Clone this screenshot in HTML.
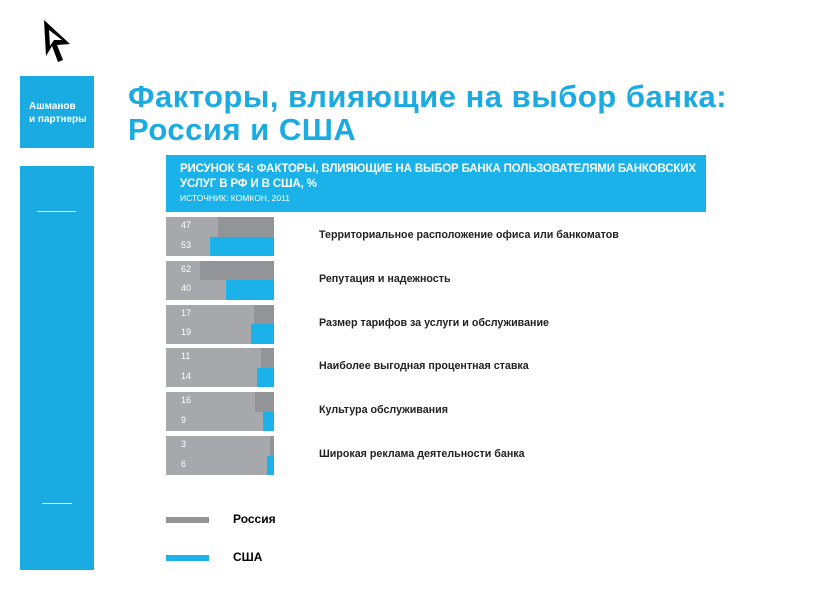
<!DOCTYPE html>
<html><head><meta charset="utf-8"><style>
body{margin:0;width:822px;height:595px;background:#fff;position:relative;overflow:hidden;font-family:"Liberation Sans",sans-serif}
.abs{position:absolute}
</style></head><body>
<svg class="abs" style="left:40px;top:18px" width="34" height="46" viewBox="0 0 34 46"><path d="M4 2 L6 38 L12 28 L18 44 L23 42 L17 27 L30 26 Z" fill="#000"/><path d="M9 12 L10 28 L14 22 L22 22 Z" fill="#fff"/></svg>
<div class="abs" style="left:20px;top:76px;width:74px;height:72px;background:#1aabe2;color:#fff;font-size:10px;font-weight:bold;line-height:13px;padding:24px 0 0 9px;box-sizing:border-box">Ашманов<br>и партнеры</div>
<div class="abs" style="left:20px;top:166px;width:74px;height:404px;background:#1aabe2"></div>
<div class="abs" style="left:37px;top:211px;width:39px;height:1px;background:#fff"></div>
<div class="abs" style="left:42px;top:503px;width:30px;height:1px;background:#fff"></div>
<div class="abs" style="left:128px;top:80px;color:#1aabe2;font-size:31px;font-weight:bold;letter-spacing:0.5px;line-height:33px;white-space:nowrap">Факторы, влияющие на выбор банка:<br>Россия и США</div>
<div class="abs" style="left:166px;top:155px;width:540px;height:57px;background:#1ab2e8;color:#fff;box-sizing:border-box;padding:7px 0 0 14px;white-space:nowrap">
<div style="font-size:11.5px;font-weight:bold;line-height:15px;letter-spacing:-0.15px">РИСУНОК 54: ФАКТОРЫ, ВЛИЯЮЩИЕ НА ВЫБОР БАНКА ПОЛЬЗОВАТЕЛЯМИ БАНКОВСКИХ<br>УСЛУГ В РФ И В США, %</div>
<div style="font-size:8.5px;line-height:12px">ИСТОЧНИК: КОМКОН, 2011</div></div>
<div id="chart"></div>
<div class="abs" style="left:166px;top:517px;width:43px;height:6px;background:#939497"></div>
<div class="abs" style="left:233px;top:512px;font-size:12px;font-weight:bold">Россия</div>
<div class="abs" style="left:166px;top:555px;width:43px;height:6px;background:#1ab2e8"></div>
<div class="abs" style="left:233px;top:550px;font-size:12px;font-weight:bold">США</div>
<script>
const categories=["Территориальное расположение офиса или банкоматов","Репутация и надежность","Размер тарифов за услуги и обслуживание","Наиболее выгодная процентная ставка","Культура обслуживания","Широкая реклама деятельности банка"];
const russia=[47,62,17,11,16,3];
const usa=[53,40,19,14,9,6];
const x0=166,w=108,right=274,y0=217,pitch=43.8,gh=39,scale=1.2;
const xs=v=>v*scale;
const root=document.getElementById('chart');
categories.forEach((c,i)=>{
 const y=y0+i*pitch;
 const g=document.createElement('div');g.className='abs';
 
 
 g.style.cssText=`left:${x0}px;top:${y}px;width:${w}px;height:${gh}px;background:#a7a8ac`;
 root.appendChild(g);
 const r=document.createElement('div');r.className='abs';
 
 
 r.style.cssText=`left:${right-xs(russia[i])}px;top:${y}px;width:${xs(russia[i])}px;height:${gh/2}px;background:#939497`;
 root.appendChild(r);
 const u=document.createElement('div');u.className='abs';
 
 
 u.style.cssText=`left:${right-xs(usa[i])}px;top:${y+gh/2}px;width:${xs(usa[i])}px;height:${gh/2}px;background:#1ab2e8`;
 root.appendChild(u);
 [[russia[i],y+3],[usa[i],y+gh/2+3]].forEach(([v,ty],k)=>{
  const t=document.createElement('div');t.className='abs';
  
  
  t.style.cssText=`left:${x0+15}px;top:${ty}px;font-size:9px;color:#fff`;
  t.textContent=v;root.appendChild(t);
 });
 const l=document.createElement('div');l.className='abs';
 
 
 l.style.cssText=`left:319px;top:${y+12}px;font-size:10.7px;font-weight:bold;color:#222;white-space:nowrap`;
 l.textContent=c;root.appendChild(l);
});
</script>
</body></html>
